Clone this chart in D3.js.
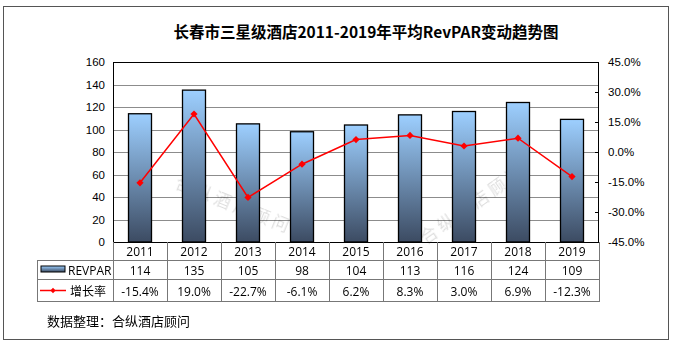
<!DOCTYPE html>
<html><head><meta charset="utf-8">
<script src="https://cdn.jsdelivr.net/npm/d3@7"></script>
<style>body{margin:0;background:#fff;}svg{display:block;}</style>
</head><body>
<svg id="c" width="674" height="346"></svg>
<script>
const years = ["2011","2012","2013","2014","2015","2016","2017","2018","2019"];
const revpar = [114,135,105,98,104,113,116,124,109];
const growth = [-15.4,19.0,-22.7,-6.1,6.2,8.3,3.0,6.9,-12.3];
const leftTicks = [0,20,40,60,80,100,120,140,160];
const rightTicks = [-45,-30,-15,0,15,30,45];
const title = "长春市三星级酒店2011-2019年平均RevPAR变动趋势图";
const source = "数据整理：合纵酒店顾问";
const seriesNames = ["REVPAR","增长率"];

const svg = d3.select("#c");
const L=113, R=599, T=62, B=242;
const x = d3.scaleBand().domain(years).range([L,R]);
const yL = d3.scaleLinear().domain([0,160]).range([B,T]);
const yR = d3.scaleLinear().domain([-45,45]).range([B,T]);

const defs = svg.append("defs");
const g = defs.append("linearGradient").attr("id","bg").attr("x1",0).attr("y1",0).attr("x2",0).attr("y2",1);
g.append("stop").attr("offset","0%").attr("stop-color","#9dcfff");
g.append("stop").attr("offset","100%").attr("stop-color","#3c4b62");
const g2 = defs.append("linearGradient").attr("id","bg2").attr("x1",0).attr("y1",0).attr("x2",0).attr("y2",1);
g2.append("stop").attr("offset","0%").attr("stop-color","#9dcfff");
g2.append("stop").attr("offset","100%").attr("stop-color","#3c4b62");

// outer frame
svg.append("rect").attr("x",3.5).attr("y",6.5).attr("width",665).attr("height",333)
  .attr("fill","none").attr("stroke","#555").attr("stroke-width",1);

svg.append("text").attr("x",366).attr("y",38).attr("text-anchor","middle")
  .attr("font-family","'Noto Sans CJK SC', sans-serif").attr("font-weight","bold")
  .attr("font-size",15.5).attr("fill","#000").text(title);

// gridlines
svg.append("g").selectAll("line").data(leftTicks.slice(1,-1)).join("line")
  .attr("x1",L).attr("x2",R).attr("y1",d=>Math.round(yL(d))+0.5).attr("y2",d=>Math.round(yL(d))+0.5)
  .attr("stroke","#8c8c8c").attr("stroke-width",1);

// plot border
svg.append("rect").attr("x",L+0.5).attr("y",T+0.5).attr("width",R-L-1).attr("height",B-T)
  .attr("fill","none").attr("stroke","#000").attr("stroke-width",1);

// watermark (faint)
const wm = svg.append("g").attr("opacity",0.13).attr("font-family","'Noto Sans CJK SC', sans-serif").attr("fill","#000");
wm.append("text").attr("x",230).attr("y",210).attr("text-anchor","middle")
  .attr("transform","rotate(22,230,210)").attr("font-size",17).text("合  纵  酒  店  顾  问");
wm.append("text").attr("x",475).attr("y",210).attr("text-anchor","middle")
  .attr("transform","rotate(-35,475,210)").attr("font-size",17).text("合  纵  酒  店  顾  问");

// left axis
const la = svg.append("g").attr("transform",`translate(${L},0)`)
  .call(d3.axisLeft(yL).tickValues(leftTicks).tickSize(0).tickPadding(8));
la.select(".domain").remove();
la.selectAll("text").attr("font-family","'Liberation Sans', Arial, sans-serif").attr("font-size",11.5).attr("fill","#000");

// right axis
const ra = svg.append("g").attr("transform",`translate(${R},0)`)
  .call(d3.axisRight(yR).tickValues(rightTicks).tickSize(0).tickPadding(9).tickFormat(d=>d.toFixed(1)+"%"));
ra.select(".domain").remove();
ra.selectAll("text").attr("font-family","'Liberation Sans', Arial, sans-serif").attr("font-size",11.5).attr("fill","#000");
svg.append("g").selectAll("line").data(rightTicks).join("line")
  .attr("x1",R-4).attr("x2",R).attr("y1",d=>Math.round(yR(d))+0.5).attr("y2",d=>Math.round(yR(d))+0.5)
  .attr("stroke","#000");

// bars
const bw = 23;
svg.append("g").selectAll("rect").data(revpar).join("rect")
  .attr("x",(d,i)=>x(years[i])+x.bandwidth()/2-bw/2).attr("y",d=>yL(d))
  .attr("width",bw).attr("height",d=>B-yL(d))
  .attr("fill","url(#bg)").attr("stroke","#000").attr("stroke-width",1.3);

// line
const pts = growth.map((d,i)=>[x(years[i])+x.bandwidth()/2, yR(d)]);
svg.append("path").attr("d",d3.line()(pts)).attr("fill","none").attr("stroke","#ff0000").attr("stroke-width",1.5);
svg.append("g").selectAll("path").data(pts).join("path")
  .attr("transform",d=>`translate(${d[0]},${d[1]}) rotate(45)`)
  .attr("d",d3.symbol(d3.symbolSquare,26)())
  .attr("fill","#ff0000");

// table
const tl = svg.append("g").attr("stroke","#777").attr("stroke-width",1);
tl.append("line").attr("x1",37).attr("x2",R).attr("y1",260.5).attr("y2",260.5);
tl.append("line").attr("x1",37).attr("x2",R).attr("y1",279.5).attr("y2",279.5);
tl.append("line").attr("x1",37).attr("x2",R).attr("y1",301.5).attr("y2",301.5);
tl.append("line").attr("x1",37.5).attr("x2",37.5).attr("y1",260).attr("y2",302);
const vx = years.map(d=>x(d)).concat([R]);
tl.selectAll("line.v").data(vx).join("line").attr("class","v")
  .attr("x1",d=>Math.round(d)+0.5).attr("x2",d=>Math.round(d)+0.5).attr("y1",B).attr("y2",302);

const tf = "'Open Sans', 'Noto Sans CJK SC', sans-serif";
const cx = d=>x(d)+x.bandwidth()/2;
svg.append("g").selectAll("text").data(years).join("text")
  .attr("x",cx).attr("y",256).attr("text-anchor","middle").attr("font-family",tf).attr("font-size",12).text(d=>d);
svg.append("g").selectAll("text").data(revpar).join("text")
  .attr("x",(d,i)=>cx(years[i])).attr("y",275).attr("text-anchor","middle").attr("font-family",tf).attr("font-size",12).text(d=>d);
svg.append("g").selectAll("text").data(growth).join("text")
  .attr("x",(d,i)=>cx(years[i])).attr("y",295.5).attr("text-anchor","middle").attr("font-family",tf).attr("font-size",12).text(d=>d.toFixed(1)+"%");

// legend in table
svg.append("rect").attr("x",41).attr("y",266).attr("width",24).attr("height",6)
  .attr("fill","url(#bg2)").attr("stroke","#000").attr("stroke-width",1);
svg.append("text").attr("x",68).attr("y",275).attr("font-family",tf).attr("font-size",12).text(seriesNames[0]);
svg.append("line").attr("x1",40).attr("x2",66).attr("y1",290.5).attr("y2",290.5).attr("stroke","#ff0000").attr("stroke-width",1.5);
svg.append("path").attr("transform","translate(53,290.5) rotate(45)").attr("d",d3.symbol(d3.symbolSquare,14)()).attr("fill","#ff0000");
svg.append("text").attr("x",70).attr("y",295.5).attr("font-family","'Noto Sans CJK SC', sans-serif").attr("font-size",12).text(seriesNames[1]);

svg.append("text").attr("x",47).attr("y",326).attr("font-family","'Noto Sans CJK SC', sans-serif").attr("font-size",13).text(source);
</script>
</body></html>
